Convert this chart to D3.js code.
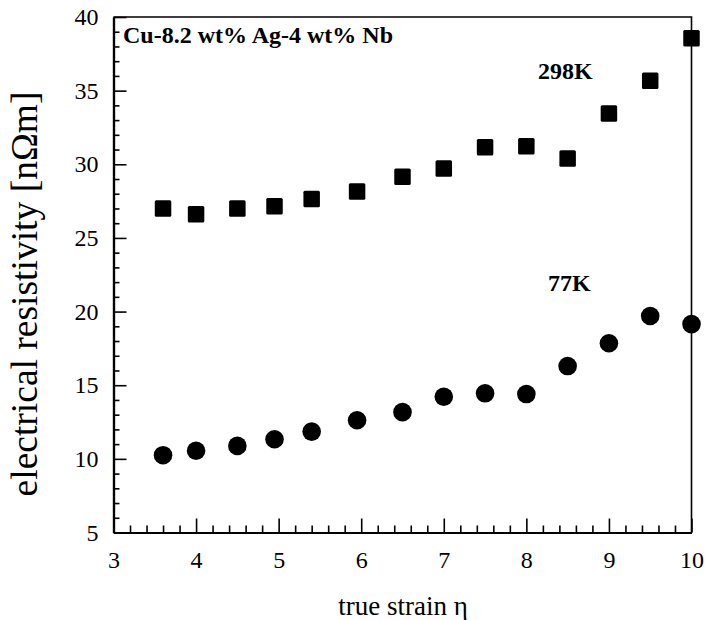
<!DOCTYPE html>
<html>
<head>
<meta charset="utf-8">
<script src="https://cdn.jsdelivr.net/npm/d3@7"></script>
<style>
  html, body { margin: 0; padding: 0; background: #fff; }
  svg { display: block; }
  text { font-family: "Liberation Serif", "Times New Roman", "DejaVu Serif", serif; fill: #000; }
</style>
</head>
<body>
<svg id="chart" width="705" height="620"></svg>
<script>
// ---- data ----
const strain = [3.6, 4.0, 4.5, 4.95, 5.4, 5.95, 6.5, 7.0, 7.5, 8.0, 8.5, 9.0, 9.5, 10.0];
const rho298K = [27.0, 26.6, 27.0, 27.15, 27.65, 28.15, 29.15, 29.72, 31.15, 31.22, 30.4, 33.45, 35.68, 38.55];
const rho77K  = [10.25, 10.55, 10.88, 11.33, 11.85, 12.62, 13.17, 14.22, 14.45, 14.4, 16.3, 17.85, 19.7, 19.15];
const xTicks = [3, 4, 5, 6, 7, 8, 9, 10];
const yTicks = [5, 10, 15, 20, 25, 30, 35, 40];
const titleText = "Cu-8.2 wt% Ag-4 wt% Nb";
const seriesLabels = ["298K", "77K"];
const xTitle = "true strain \u03b7";
const yTitle = "electrical resistivity [n\u03a9m]";

// ---- layout ----
const svg = d3.select("#chart");
const L = 113.5, R = 691.5, T = 17, B = 532.5;
const x = d3.scaleLinear().domain([3, 10]).range([L, R]);
const y = d3.scaleLinear().domain([5, 40]).range([B, T]);

// frame (top & right)
svg.append("path")
  .attr("d", `M${L},${T}H${R}V${B}`)
  .attr("fill", "none").attr("stroke", "#000").attr("stroke-width", 1.6);

// minor ticks
const xMinor = d3.range(3, 10.001, 0.2).filter(v => Math.abs(v - Math.round(v)) > 1e-6);
const yMinor = d3.range(5, 40.001, 1).filter(v => v % 5 !== 0);

const gxMinor = svg.append("g").attr("transform", `translate(0,${B})`)
  .call(d3.axisBottom(x).tickValues(xMinor).tickSize(-7).tickSizeOuter(0).tickFormat(""));
const gyMinor = svg.append("g").attr("transform", `translate(${L},0)`)
  .call(d3.axisLeft(y).tickValues(yMinor).tickSize(-6).tickSizeOuter(0).tickFormat(""));

const gx = svg.append("g").attr("transform", `translate(0,${B})`)
  .call(d3.axisBottom(x).tickValues(xTicks).tickSize(-14).tickSizeOuter(0).tickPadding(18).tickFormat(d3.format("d")));
const gy = svg.append("g").attr("transform", `translate(${L},0)`)
  .call(d3.axisLeft(y).tickValues(yTicks).tickSize(-13).tickSizeOuter(0).tickPadding(15).tickFormat(d3.format("d")));

[gxMinor, gyMinor, gx, gy].forEach(g => {
  g.attr("font-family", null).attr("font-size", null);
  g.selectAll("path.domain").attr("stroke", "#000").attr("stroke-width", 2.2);
  g.selectAll(".tick line").attr("stroke", "#000").attr("stroke-width", 1.6);
  g.selectAll("text")
    .style("font-family", "'Liberation Serif', 'Times New Roman', serif")
    .style("font-size", "24px")
    .attr("fill", "#000");
});

// data markers
const sq = 16.5;
svg.append("g").selectAll("rect")
  .data(strain.map((s, i) => [s, rho298K[i]]))
  .join("rect")
  .attr("x", d => x(d[0]) - sq / 2)
  .attr("y", d => y(d[1]) - sq / 2)
  .attr("width", sq).attr("height", sq)
  .attr("rx", 1.5)
  .attr("fill", "#000");

svg.append("g").selectAll("circle")
  .data(strain.map((s, i) => [s, rho77K[i]]))
  .join("circle")
  .attr("cx", d => x(d[0]))
  .attr("cy", d => y(d[1]))
  .attr("r", 9.3)
  .attr("fill", "#000");

// annotations
svg.append("text").attr("x", 123).attr("y", 43)
  .attr("font-size", 24).attr("font-weight", "bold").text(titleText);
svg.append("text").attr("x", 538).attr("y", 79)
  .attr("font-size", 24).attr("font-weight", "bold").text(seriesLabels[0]);
svg.append("text").attr("x", 548).attr("y", 291)
  .attr("font-size", 24).attr("font-weight", "bold").text(seriesLabels[1]);

// axis titles
svg.append("text").attr("x", 403).attr("y", 615)
  .attr("text-anchor", "middle").attr("font-size", 27).text(xTitle);
svg.append("text")
  .attr("transform", "translate(37,294) rotate(-90)")
  .attr("text-anchor", "middle").attr("font-size", 37.5).text(yTitle);
</script>
</body>
</html>
